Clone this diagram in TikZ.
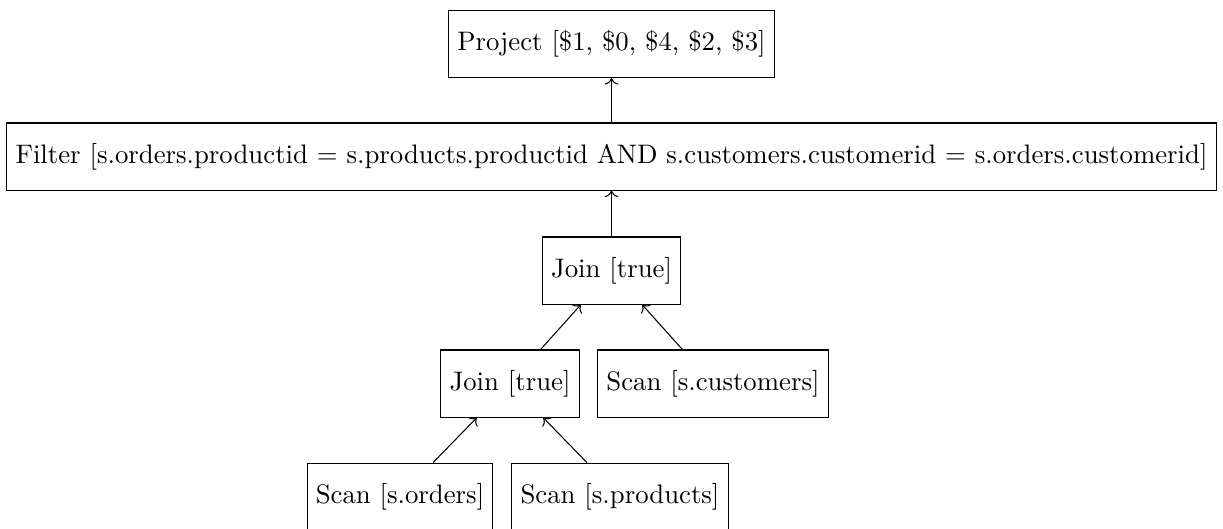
\documentclass[tikz,border=0pt]{standalone}
\usepackage{tikz}
\usetikzlibrary{arrows.meta, positioning}

\begin{document}
\begin{tikzpicture}[
  font=\fontsize{10.22pt}{12.2pt}\selectfont,
  op/.style={draw, minimum height=0.9cm, align=center},
  a/.style={->}
]
\useasboundingbox (-8.208,0.591) rectangle (8.208,-6.497);
\node[op] (project) at (0,0) {Project [\$1, \$0, \$4, \$2, \$3]};
\node[op] (filter) at (0,-1.51) {Filter [s.orders.productid = s.products.productid AND s.customers.customerid = s.orders.customerid]};
\node[op] (join) at (0,-3.04) {Join [true]};
\node[op] (joinb) at (-1.362,-4.557) {Join [true]};
\node[op] (customers) at (1.362,-4.557) {Scan [s.customers]};
\node[op] (orders) at (-2.839,-6.074) {Scan [s.orders]};
\node[op] (products) at (0.114,-6.074) {Scan [s.products]};
\draw[a] (filter) -- (project);
\draw[a] (join) -- (filter);
\draw[a] (joinb) -- (join);
\draw[a] (customers) -- (join);
\draw[a] (orders) -- (joinb);
\draw[a] (products) -- (joinb);
\end{tikzpicture}
\end{document}
